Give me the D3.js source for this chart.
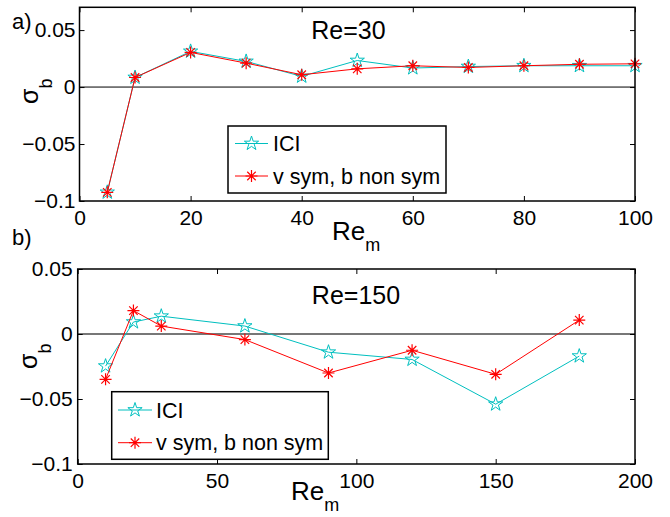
<!DOCTYPE html>
<html><head><meta charset="utf-8">
<script src="https://cdn.jsdelivr.net/npm/d3@7"></script>
<style>
html,body{margin:0;padding:0;background:#fff;}
svg{display:block;font-family:"Liberation Sans",Arial,Helvetica,sans-serif;}
</style></head>
<body>
<svg id="chart" width="670" height="517"></svg>
<script>
// ---- data ----
const reA = [5, 10, 20, 30, 40, 50, 60, 70, 80, 90, 100];
const iciA = [-0.0924, 0.0084, 0.0313, 0.0225, 0.0094, 0.0233, 0.0167, 0.018, 0.0187, 0.0187, 0.0187];
const symA = [-0.0924, 0.0084, 0.0304, 0.021, 0.0108, 0.016, 0.0187, 0.0172, 0.0187, 0.020, 0.0204];

const reB = [10, 20, 30, 60, 90, 120, 150, 180];
const iciB = [-0.0247, 0.0092, 0.0137, 0.0061, -0.014, -0.0196, -0.054, -0.017];
const symB = [-0.0349, 0.018, 0.0061, -0.0043, -0.030, -0.0125, -0.031, 0.0107];

const xTicksA = [0, 20, 40, 60, 80, 100];
const xTicksB = [0, 50, 100, 150, 200];
const yTicks = [0.05, 0, -0.05, -0.1];
const yTickLabels = ["0.05", "0", "\u22120.05", "\u22120.1"];
const seriesNames = ["ICI", "v sym, b non sym"];

const CYAN = "#00BFBF", RED = "#FF0000";
const svg = d3.select("#chart");

function star(r) {
  const pts = [];
  const ri = r * 0.382;
  for (let i = 0; i < 10; i++) {
    const a = -Math.PI / 2 + i * Math.PI / 5;
    const rr = i % 2 === 0 ? r : ri;
    pts.push([rr * Math.cos(a), rr * Math.sin(a)]);
  }
  return "M" + pts.map(p => p[0].toFixed(2) + "," + p[1].toFixed(2)).join("L") + "Z";
}
function asterisk(r) {
  let d = "";
  for (let i = 0; i < 4; i++) {
    const a = i * Math.PI / 4;
    const dx = r * Math.cos(a), dy = r * Math.sin(a);
    d += `M${(-dx).toFixed(2)},${(-dy).toFixed(2)}L${dx.toFixed(2)},${dy.toFixed(2)}`;
  }
  return d;
}

function panel(opt) {
  const g = svg.append("g");
  const x = d3.scaleLinear().domain(opt.xDomain).range([opt.left, opt.right]);
  const y = d3.scaleLinear().domain(opt.yDomain).range([opt.bottom, opt.top]);

  // zero line
  g.append("line")
    .attr("x1", opt.left).attr("x2", opt.right)
    .attr("y1", y(0)).attr("y2", y(0))
    .attr("stroke", opt.zeroColor).attr("stroke-width", opt.zeroWidth);

  // series
  const line = d3.line().x(d => x(d[0])).y(d => y(d[1]));
  const s1 = opt.xs.map((v, i) => [v, opt.ici[i]]);
  const s2 = opt.xs.map((v, i) => [v, opt.sym[i]]);
  g.append("path").attr("d", line(s1)).attr("fill", "none").attr("stroke", CYAN).attr("stroke-width", 1);
  g.selectAll(".st").data(s1).enter().append("path")
    .attr("d", star(7.5)).attr("transform", d => `translate(${x(d[0])},${y(d[1])})`)
    .attr("fill", "none").attr("stroke", CYAN).attr("stroke-width", 1);
  g.append("path").attr("d", line(s2)).attr("fill", "none").attr("stroke", RED).attr("stroke-width", 1);
  g.selectAll(".as").data(s2).enter().append("path")
    .attr("d", asterisk(6)).attr("transform", d => `translate(${x(d[0])},${y(d[1])})`)
    .attr("fill", "none").attr("stroke", RED).attr("stroke-width", 1.2);

  // axes
  const ax = g.append("g").attr("transform", `translate(0,${opt.bottom})`)
    .call(d3.axisBottom(x).tickValues(opt.xTicks).tickSize(-5).tickPadding(opt.xPad).tickFormat(d3.format("d")));
  const at = g.append("g").attr("transform", `translate(0,${opt.top})`)
    .call(d3.axisTop(x).tickValues(opt.xTicks).tickSize(-5).tickFormat(""));
  const ay = g.append("g").attr("transform", `translate(${opt.left},0)`)
    .call(d3.axisLeft(y).tickValues(yTicks).tickSize(-5).tickPadding(opt.yPad).tickFormat((d, i) => yTickLabels[i]));
  const ar = g.append("g").attr("transform", `translate(${opt.right},0)`)
    .call(d3.axisRight(y).tickValues(yTicks).tickSize(-5).tickFormat(""));
  [ax, at, ay, ar].forEach(a => {
    a.select(".domain").remove();
    a.selectAll("line").attr("stroke", "#000").attr("stroke-width", 1);
    a.selectAll("text").attr("fill", "#000").style("font-size", "21px").style("font-family", "'Liberation Sans',Arial,sans-serif");
  });
  // box
  g.append("rect").attr("x", opt.left).attr("y", opt.top)
    .attr("width", opt.right - opt.left).attr("height", opt.bottom - opt.top)
    .attr("fill", "none").attr("stroke", "#000").attr("stroke-width", 1.5);

  // title
  g.append("text").attr("x", opt.titleX).attr("y", opt.titleY).attr("text-anchor", "middle")
    .style("font-size", "25px").text(opt.title);

  // x label
  const xl = g.append("text").attr("x", opt.xlX).attr("y", opt.xlY).style("font-size", "26px");
  xl.append("tspan").text("Re");
  xl.append("tspan").attr("dy", 11).style("font-size", "18px").text("m");

  // y label (rotated)
  const yl = g.append("text").attr("transform", `translate(${opt.ylX},${opt.ylY}) rotate(-90)`).style("font-size", "25px");
  yl.append("tspan").text("\u03c3");
  yl.append("tspan").attr("dy", 14).style("font-size", "18px").text("b");

  // legend
  const L = opt.legend;
  g.append("rect").attr("x", L.x).attr("y", L.y).attr("width", L.w).attr("height", L.h)
    .attr("fill", "#fff").attr("stroke", "#000").attr("stroke-width", 1.5);
  const rows = [{ c: CYAN, m: star(7.5), w: 1 }, { c: RED, m: asterisk(6), w: 1.2 }];
  rows.forEach((r, i) => {
    const yy = L.rowY[i];
    g.append("line").attr("x1", L.lx1).attr("x2", L.lx2).attr("y1", yy).attr("y2", yy)
      .attr("stroke", r.c).attr("stroke-width", 1);
    g.append("path").attr("d", r.m).attr("transform", `translate(${(L.lx1 + L.lx2) / 2},${yy})`)
      .attr("fill", "none").attr("stroke", r.c).attr("stroke-width", r.w);
    g.append("text").attr("x", L.tx).attr("y", yy + 7.5).style("font-size", "21.5px").text(seriesNames[i]);
  });
}

panel({
  xDomain: [0, 100], yDomain: [-0.1, 0.07],
  left: 79.5, right: 635, top: 7.3, bottom: 201,
  xs: reA, ici: iciA, sym: symA, xTicks: xTicksA,
  zeroColor: "#000", zeroWidth: 1,
  xPad: 9, yPad: 4,
  title: "Re=30", titleX: 348.5, titleY: 38.5,
  xlX: 332, xlY: 240, ylX: 38, ylY: 104,
  legend: { x: 228, y: 126, w: 218, h: 67, rowY: [143.5, 176], lx1: 235, lx2: 268, tx: 273 }
});

panel({
  xDomain: [0, 200], yDomain: [-0.1, 0.05],
  left: 77.7, right: 635, top: 269, bottom: 464,
  xs: reB, ici: iciB, sym: symB, xTicks: xTicksB,
  zeroColor: "#777", zeroWidth: 2,
  xPad: 9, yPad: 5,
  title: "Re=150", titleX: 356, titleY: 303.5,
  xlX: 291, xlY: 500, ylX: 37, ylY: 369,
  legend: { x: 111.7, y: 391.7, w: 216.6, h: 67.6, rowY: [410, 442.7], lx1: 118, lx2: 152, tx: 156 }
});

// panel letters
svg.append("text").attr("x", 12).attr("y", 29).style("font-size", "22px").text("a)");
svg.append("text").attr("x", 12).attr("y", 245).style("font-size", "22px").text("b)");
</script>
</body></html>
